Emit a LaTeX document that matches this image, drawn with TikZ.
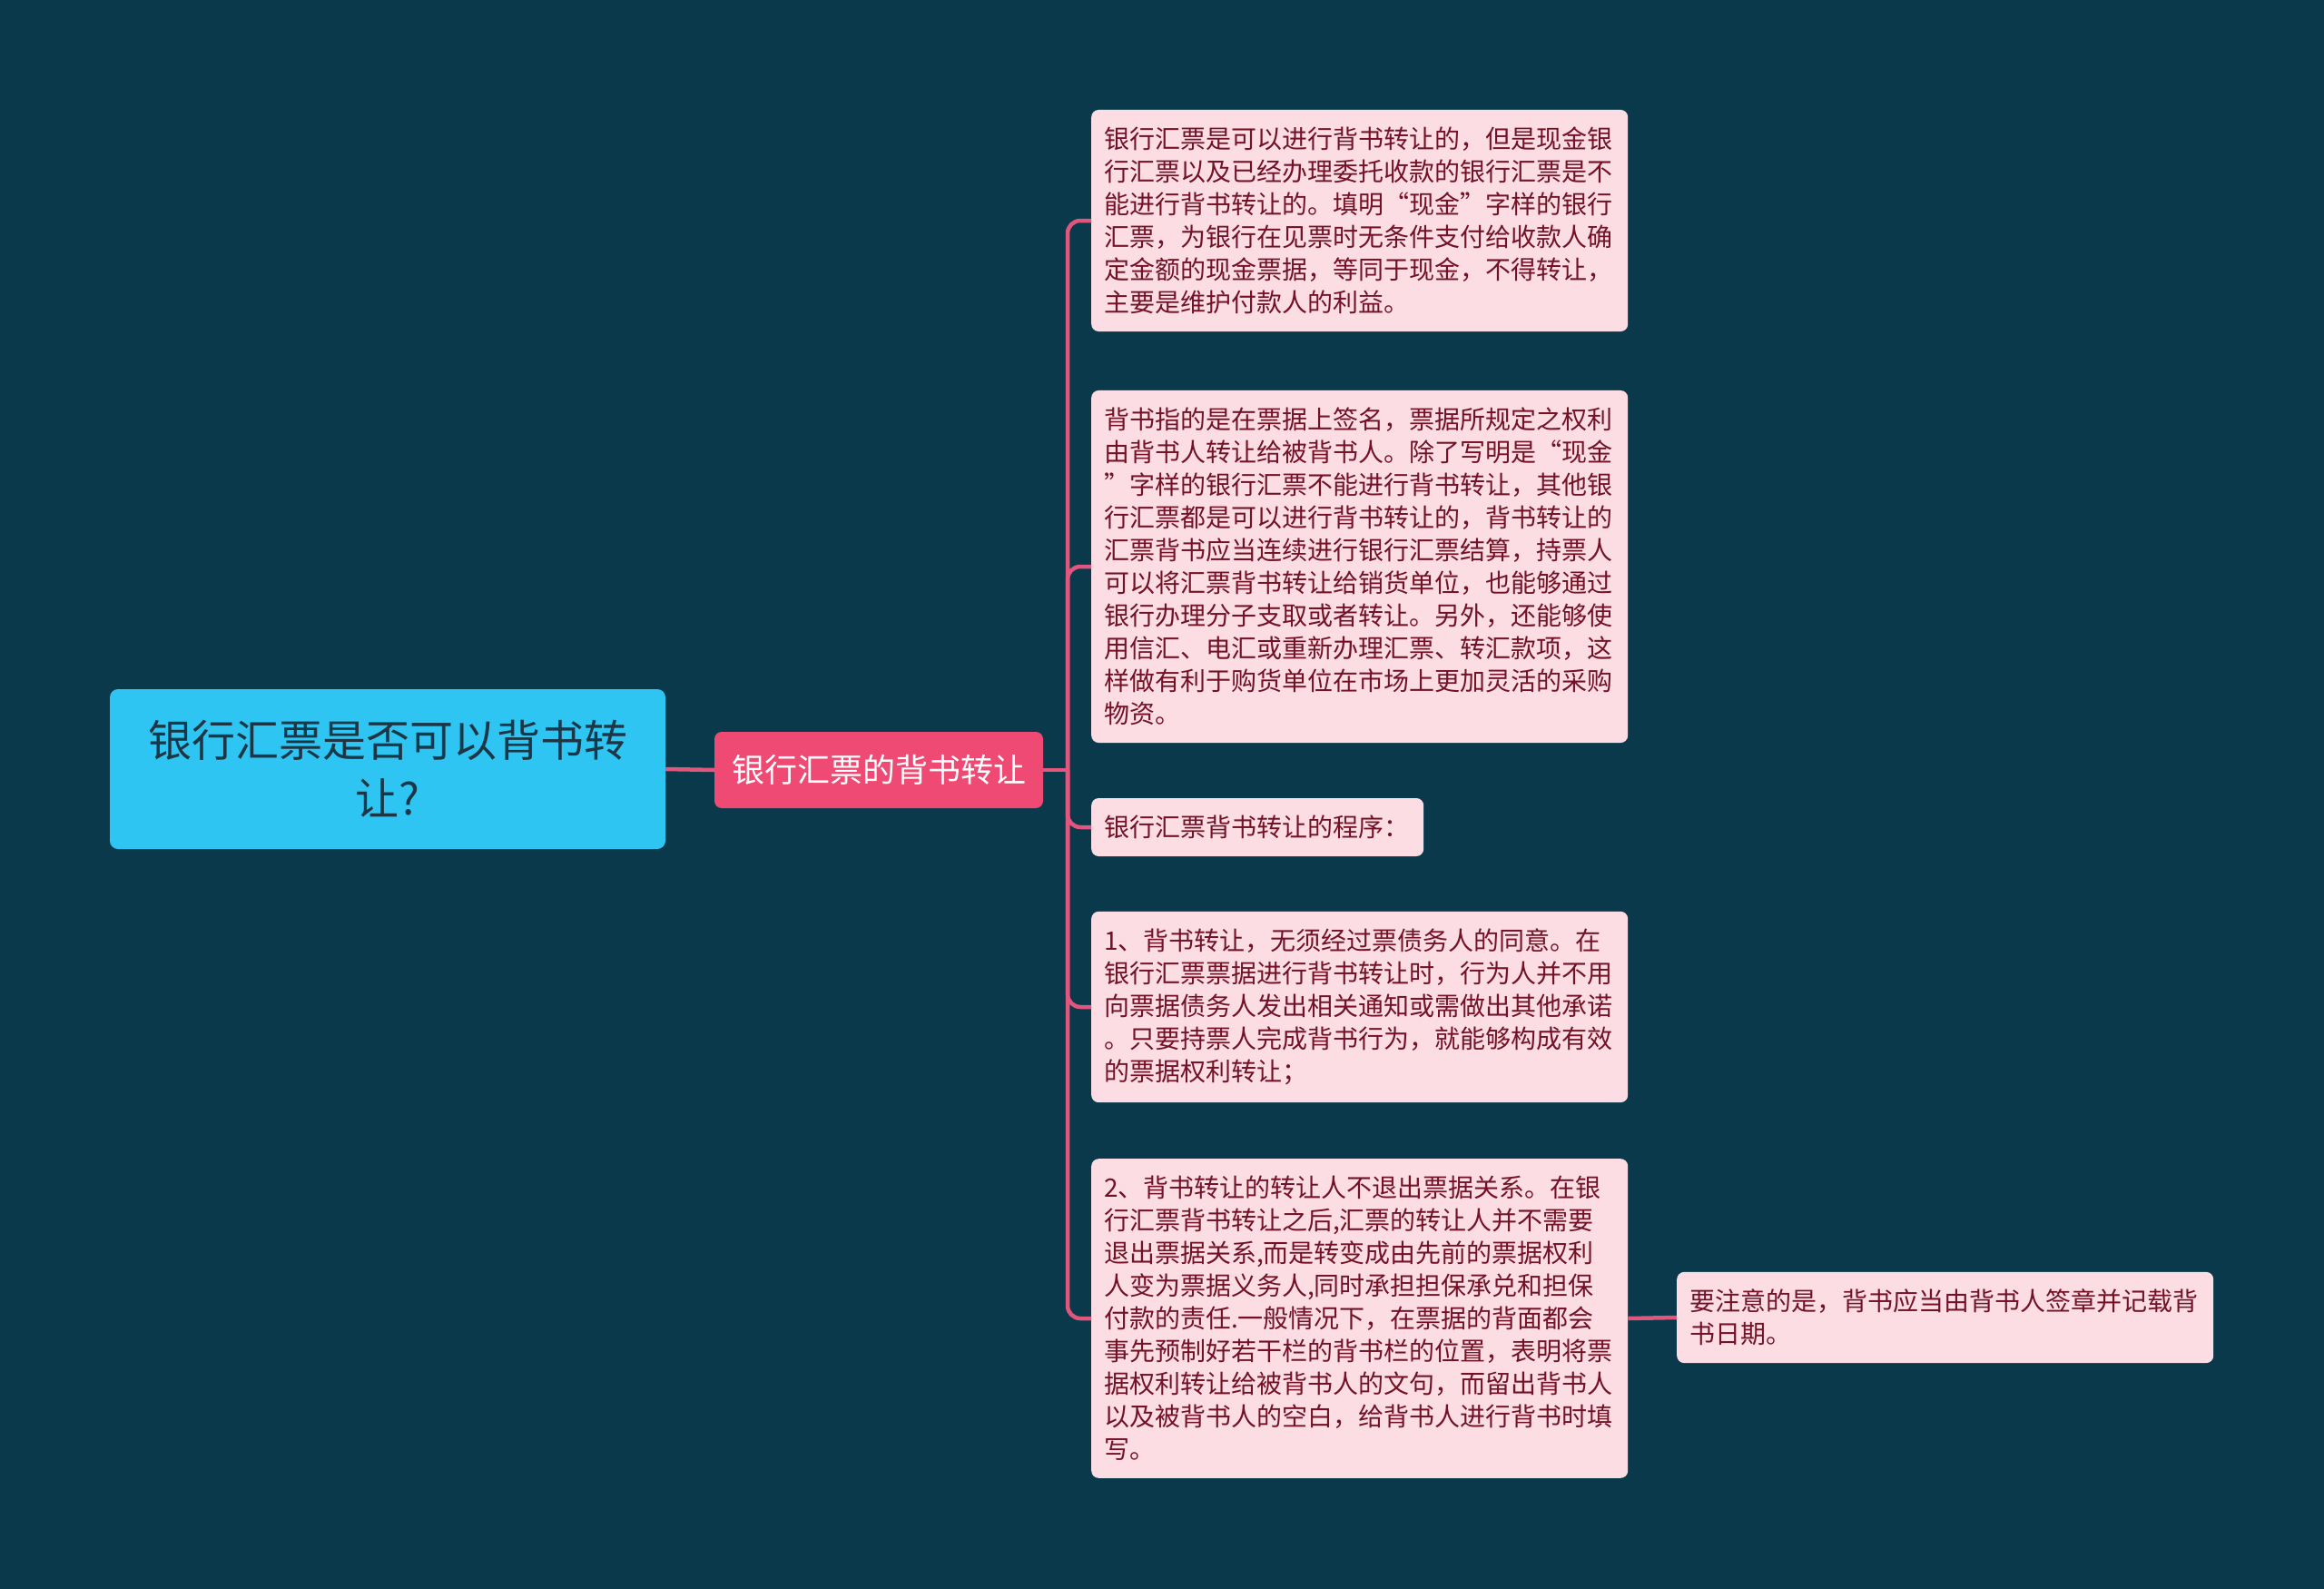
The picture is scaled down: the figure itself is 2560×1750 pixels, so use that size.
\documentclass[tikz,border=0pt]{standalone}
\usepackage{fontspec}
\setmainfont{Noto Sans CJK SC}
\usepackage{tikz}
\usetikzlibrary{calc,positioning}

\definecolor{bgteal}{HTML}{0A394B}
\definecolor{rootblue}{HTML}{2EC5F3}
\definecolor{roottext}{HTML}{1C3645}
\definecolor{midpink}{HTML}{EE4A73}
\definecolor{leafpink}{HTML}{FCDDE3}
\definecolor{leaftext}{HTML}{731226}
\definecolor{linkpink}{HTML}{E0567D}

\begin{document}
\begin{tikzpicture}[x=1pt,y=-1pt]

% --- STYLES ---
\tikzset{
  rootnode/.style={rectangle, rounded corners=9pt, fill=rootblue,
                   text=roottext, font=\fontsize{48}{64}\selectfont,
                   align=center, minimum width=612pt, minimum height=176pt,
                   inner sep=0pt},
  midnode/.style={rectangle, rounded corners=8pt, fill=midpink,
                  text=white, font=\fontsize{36}{44}\selectfont,
                  minimum width=362pt, minimum height=84pt, inner sep=0pt},
  leaf/.style={rectangle, rounded corners=8pt, fill=leafpink,
               text=leaftext, font=\fontsize{28}{36}\selectfont,
               align=left, text width=563pt,
               inner xsep=14pt, inner ysep=19pt, anchor=west},
  link/.style={draw=linkpink, line width=4.5pt},
  elbowlink/.style={link, rounded corners=14pt},
}

% ================= BACKGROUND =================
\fill[bgteal] (0,0) rectangle (2560,1750);
\useasboundingbox (0,0) rectangle (2560,1750);

% ================= ROOT & BRANCH =================
\node[rootnode] (root) at (427,847) {银行汇票是否可以背书转\\让?};
\node[midnode]  (mid)  at (968,848) {银行汇票的背书转让};

% ================= LEAVES =================
\node[leaf] (c1) at (1202,243) {银行汇票是可以进行背书转让的，但是现金银\\
行汇票以及已经办理委托收款的银行汇票是不\\
能进行背书转让的。填明“现金”字样的银行\\
汇票，为银行在见票时无条件支付给收款人确\\
定金额的现金票据，等同于现金，不得转让，\\
主要是维护付款人的利益。};
\node[leaf] (c2) at (1202,624) {背书指的是在票据上签名，票据所规定之权利\\
由背书人转让给被背书人。除了写明是“现金\\
”字样的银行汇票不能进行背书转让，其他银\\
行汇票都是可以进行背书转让的，背书转让的\\
汇票背书应当连续进行银行汇票结算，持票人\\
可以将汇票背书转让给销货单位，也能够通过\\
银行办理分子支取或者转让。另外，还能够使\\
用信汇、电汇或重新办理汇票、转汇款项，这\\
样做有利于购货单位在市场上更加灵活的采购\\
物资。};
\node[leaf, text width=338pt] (c3) at (1202,911) {银行汇票背书转让的程序：};
\node[leaf] (c4) at (1202,1109) {1、背书转让，无须经过票债务人的同意。在\\
银行汇票票据进行背书转让时，行为人并不用\\
向票据债务人发出相关通知或需做出其他承诺\\
。只要持票人完成背书行为，就能够构成有效\\
的票据权利转让；};
\node[leaf] (c5) at (1202,1452) {2、背书转让的转让人不退出票据关系。在银\\
行汇票背书转让之后,汇票的转让人并不需要\\
退出票据关系,而是转变成由先前的票据权利\\
人变为票据义务人,同时承担担保承兑和担保\\
付款的责任.一般情况下，在票据的背面都会\\
事先预制好若干栏的背书栏的位置，表明将票\\
据权利转让给被背书人的文句，而留出背书人\\
以及被背书人的空白，给背书人进行背书时填\\
写。};
\node[leaf] (c6) at (1847,1451) {要注意的是，背书应当由背书人签章并记载背\\
书日期。};

% ================= CONNECTORS =================
\coordinate (trunk) at (1176,848);
\draw[link] (root.east) -- (mid.west);
\draw[link] (mid.east) -- (trunk);
\foreach \leafname in {c1,c2,c3,c4,c5}
  \draw[elbowlink] (trunk) |- (\leafname.west);
\draw[link] (c5.east) -- (c6.west);

\end{tikzpicture}
\end{document}
